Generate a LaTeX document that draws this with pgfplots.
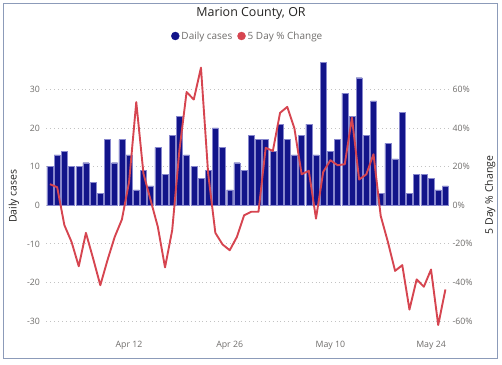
\documentclass[border=0pt]{standalone}
\usepackage{pgfplots}
\pgfplotsset{compat=1.18}
\usepackage{fontspec}
\setmainfont{Open Sans}
\definecolor{barblue}{RGB}{18,20,138}
\definecolor{baredge}{RGB}{135,135,205}
\definecolor{linered}{RGB}{214,69,80}
\definecolor{ticktxt}{RGB}{110,108,106}
\definecolor{labtxt}{RGB}{37,36,35}
\definecolor{framec}{RGB}{140,155,185}
\definecolor{gridc}{RGB}{195,195,195}

\pgfplotstableread{
d v
0 10
1 13
2 14
3 10
4 10
5 11
6 6
7 3
8 17
9 11
10 17
11 13
12 4
13 9
14 5
15 15
16 8
17 18
18 23
19 13
20 10
21 7
22 9
23 20
24 15
25 4
26 11
27 9
28 18
29 17
30 17
31 14
32 21
33 17
34 13
35 18
36 21
37 13
38 37
39 14
40 17
41 29
42 23
43 33
44 18
45 27
46 3
47 16
48 12
49 24
50 3
51 8
52 8
53 7
54 4
55 5
}\cases

\pgfplotstableread{
d p
0 10.9
1 9.3
2 -10.3
3 -19
4 -31.6
5 -14.3
6 -27.6
7 -41.4
8 -28.4
9 -16.4
10 -7.4
11 12
12 53.4
13 16.4
14 2.6
15 -11.2
16 -32.2
17 -12.9
18 28.4
19 58.6
20 54.7
21 71.2
22 16.4
23 -14.3
24 -20.3
25 -23.3
26 -16.4
27 -5.2
28 -3.4
29 -3.4
30 29.7
31 28.1
32 47.8
33 50.9
34 39.7
35 16
36 17.8
37 -6.9
38 17.2
39 23.3
40 20.7
41 21.2
42 45.3
43 13.3
44 16
45 26.4
46 -5.5
47 -19
48 -34
49 -31
50 -54
51 -38.4
52 -42.2
53 -33.3
54 -62
55 -43.6
}\change

\begin{document}
\begin{tikzpicture}
\path[use as bounding box] (0,0) rectangle (502bp,365bp);
\draw[framec, line width=1bp] (3.5bp,6bp) rectangle (497bp,361.5bp);
\node[labtxt, font=\fontsize{12.5}{14}\selectfont] at (251bp,352bp) {Marion County, OR};
\begin{axis}[
  at={(46.4bp,28.4bp)}, anchor=south west,
  scale only axis, width=402.6bp, height=278.2bp,
  xmin=-0.5, xmax=55.5, ymin=-34, ymax=38,
  axis line style={draw=none},
  major tick length=0,
  xtick={11,25,39,53},
  xticklabels={Apr 12,Apr 26,May 10,May 24},
  ytick={-30,-20,...,30},
  ymajorgrids,
  grid style={gridc, line width=0.9bp, dash pattern=on 0.9bp off 3bp},
  tick label style={ticktxt, font=\fontsize{8.8}{10}\selectfont},
  /pgf/number format/assume math mode=true,
  yticklabel style={xshift=-3bp},
  xticklabel style={yshift=-1bp},
  ylabel={Daily cases},
  ylabel style={at={(axis description cs:-0.0805,0.505)}, anchor=center, rotate=0, labtxt, font=\fontsize{10.5}{12}\selectfont},
  legend columns=2,
  legend style={at={(0.5,1)}, anchor=center, yshift=22.4bp, draw=none, fill=none,
    font=\fontsize{10}{11}\selectfont, text=ticktxt, inner sep=0pt,
    /tikz/every even column/.append style={column sep=3bp}},
  legend cell align=left,
]
\addplot[ybar, bar width=6bp, fill=barblue, draw=baredge, line width=0.4bp, forget plot] table[x=d, y=v] {\cases};
\addlegendimage{legend image code/.code={\fill[barblue] (0bp,0bp) circle (4bp);}}
\addlegendentry{Daily cases}
\addlegendimage{legend image code/.code={\fill[linered] (0bp,0bp) circle (4bp);}}
\addlegendentry{5 Day \% Change}
\end{axis}
\begin{axis}[
  at={(46.4bp,28.4bp)}, anchor=south west,
  scale only axis, width=402.6bp, height=278.2bp,
  xmin=-0.5, xmax=55.5, ymin=-68, ymax=76,
  axis x line=none,
  axis y line*=right,
  axis line style={draw=none},
  major tick length=0,
  ytick={-60,-40,...,60},
  yticklabel={\pgfmathprintnumber{\tick}\%},
  tick label style={ticktxt, font=\fontsize{8.8}{10}\selectfont},
  /pgf/number format/assume math mode=true,
  yticklabel style={xshift=0bp},
  ylabel={5 Day \% Change},
  ylabel style={at={(axis description cs:1.102,0.509)}, anchor=center, rotate=0, labtxt, font=\fontsize{10.5}{12}\selectfont},
]
\addplot[linered, line width=1.9bp, no marks, line join=round] table[x=d, y=p] {\change};
\end{axis}
\end{tikzpicture}
\end{document}
